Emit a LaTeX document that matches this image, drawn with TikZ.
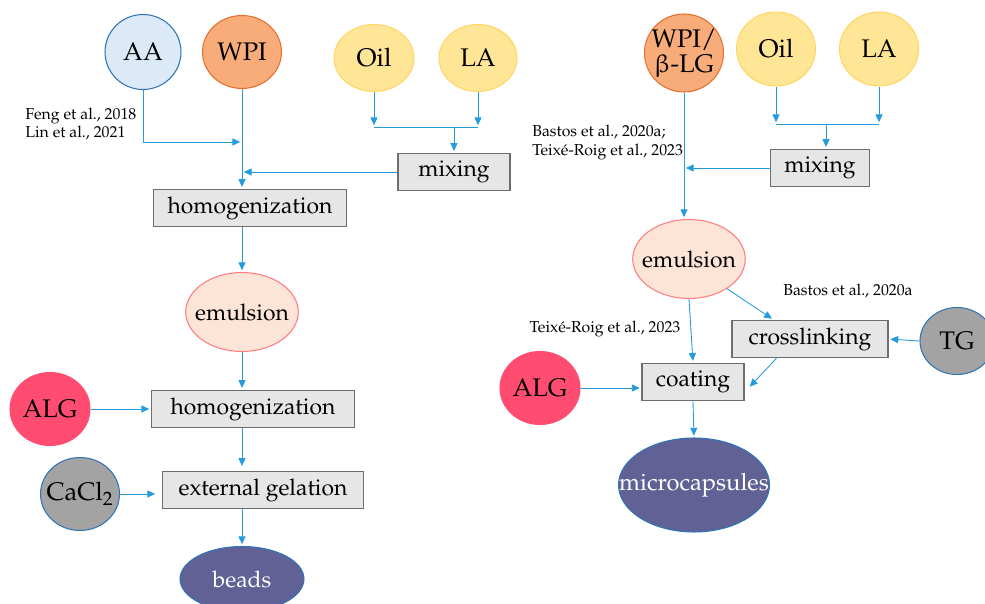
\documentclass[tikz,border=0pt]{standalone}
\usepackage[T1]{fontenc}
\usepackage{mathpazo}
\usepackage{upgreek}
\usepackage{tikz}
\usetikzlibrary{shapes.geometric,arrows.meta,calc}
\definecolor{flowblue}{RGB}{35,155,220}
\definecolor{edgeblue}{RGB}{46,117,182}
\definecolor{aablue}{RGB}{220,234,247}
\definecolor{wpiorange}{RGB}{247,172,122}
\definecolor{wpiedge}{RGB}{232,110,40}
\definecolor{oilyellow}{RGB}{255,229,150}
\definecolor{oiledge}{RGB}{255,214,100}
\definecolor{emulpeach}{RGB}{252,228,214}
\definecolor{emuledge}{RGB}{255,124,128}
\definecolor{algpink}{RGB}{255,76,112}
\definecolor{saltgray}{RGB}{163,163,163}
\definecolor{capviolet}{RGB}{97,97,150}
\definecolor{boxgray}{RGB}{231,230,230}
\definecolor{boxedge}{RGB}{110,110,110}

\begin{document}
\begin{tikzpicture}[x=0.02cm, y=-0.02cm,
  every node/.style={font=\fontsize{13}{16}\selectfont},
  blob/.style={draw, ellipse, inner sep=-4pt, line width=0.6pt, font=\fontsize{14.5}{15}\selectfont},
  stepbox/.style={draw=boxedge, fill=boxgray, rectangle, minimum height=0.75cm, inner sep=0pt, line width=0.6pt},
  cite/.style={font=\fontsize{9}{10.5}\selectfont, align=left, inner sep=0pt},
  arr/.style={-{Triangle[length=4.5pt,width=4pt]}, flowblue, line width=0.5pt, shorten >=1pt},
  link/.style={flowblue, line width=0.5pt}]
\useasboundingbox (0,0) rectangle (985,604);

% Left route: beads
\node[blob, fill=aablue, draw=edgeblue, minimum width=1.52cm, minimum height=1.5cm] (aa) at (143,52) {AA};
\node[blob, fill=wpiorange, draw=wpiedge, minimum width=1.58cm, minimum height=1.46cm] (wpi) at (242,52) {WPI};
\node[blob, fill=oilyellow, draw=oiledge, minimum width=1.6cm, minimum height=1.34cm] (oil1) at (374,58) {Oil};
\node[blob, fill=oilyellow, draw=oiledge, minimum width=1.56cm, minimum height=1.34cm] (la1) at (478,58) {LA};

\node[stepbox, minimum width=2.24cm] (mix1) at (454,172) {mixing};
\node[stepbox, minimum width=3.86cm] (hom1) at (250,208) {homogenization};
\node[blob, fill=emulpeach, draw=emuledge, minimum width=2.18cm, minimum height=1.58cm, font=\fontsize{13}{16}\selectfont] (emul1) at (242,312) {emulsion};
\node[stepbox, minimum width=4.06cm] (hom2) at (253,409) {homogenization};
\node[blob, fill=algpink, draw=algpink, minimum width=1.6cm, minimum height=1.46cm] (alg1) at (50,409) {ALG};
\node[stepbox, minimum width=4.02cm] (gel) at (263,490) {external gelation};
\node[blob, fill=saltgray, draw=edgeblue, minimum width=1.58cm, minimum height=1.46cm] (cacl) at (80,494) {CaCl$_2$};
\node[blob, fill=capviolet, draw=edgeblue, minimum width=2.48cm, minimum height=1.3cm, text=white, font=\fontsize{13}{16}\selectfont] (beads) at (242,579) {beads};

\node[cite, anchor=west] (refl) at (25,124) {Feng et al., 2018\\Lin et al., 2021};

\coordinate (jaa) at (242,142);
\coordinate (jl) at (426,127);
\draw[arr] (aa.south) |- (jaa);
\draw[arr] (wpi.south) -- (wpi.south |- hom1.north);
\draw[arr] (oil1.south) -- (oil1.south |- jl);
\draw[arr] (la1.south) -- (la1.south |- jl);
\draw[link] (oil1.south |- jl) -- (la1.south |- jl);
\draw[arr] (jl -| mix1.north) -- (mix1.north);
\draw[arr] (mix1.west) -- (mix1.west -| wpi.south);
\draw[arr] (emul1.north |- hom1.south) -- (emul1.north);
\draw[arr] (emul1.south) -- (emul1.south |- hom2.north);
\draw[arr] (alg1.east) -- (alg1.east -| hom2.west);
\draw[arr] (emul1.south |- hom2.south) -- ($(emul1.south |- gel.north)+(0,-3)$);
\draw[arr] (cacl.east) -- ($(cacl.east -| gel.west)+(-5,0)$);
\draw[arr] (beads.north |- gel.south) -- (beads.north);

% Right route: microcapsules
\node[blob, fill=wpiorange, draw=wpiedge, minimum width=1.58cm, minimum height=1.56cm, align=center, font=\fontsize{14.5}{14.5}\selectfont] (wpib) at (684,53) {WPI/\\$\upbeta$-LG};
\node[blob, fill=oilyellow, draw=oiledge, minimum width=1.58cm, minimum height=1.48cm] (oil2) at (776,49) {Oil};
\node[blob, fill=oilyellow, draw=oiledge, minimum width=1.58cm, minimum height=1.48cm] (la2) at (879,49) {LA};

\node[stepbox, minimum width=1.98cm] (mix2) at (820,168) {mixing};
\node[blob, fill=emulpeach, draw=emuledge, minimum width=2.18cm, minimum height=1.58cm, font=\fontsize{13}{16}\selectfont] (emul2) at (689,259) {emulsion};
\node[stepbox, minimum width=3.12cm] (cross) at (810,339) {crosslinking};
\node[blob, fill=saltgray, draw=edgeblue, minimum width=1.48cm, minimum height=1.34cm] (tg) at (957,341) {TG};
\node[stepbox, minimum width=2.04cm] (coat) at (693,382) {coating};
\node[blob, fill=algpink, draw=algpink, minimum width=1.6cm, minimum height=1.46cm] (alg2) at (540,388) {ALG};
\node[blob, fill=capviolet, draw=edgeblue, minimum width=3.02cm, minimum height=1.88cm, inner xsep=-0.6cm, text=white, font=\fontsize{13.5}{16}\selectfont] (caps) at (694,485) {microcapsules};

\node[cite, anchor=north west] (refr) at (532,125) {Bastos et al., 2020a;\\Teix\'e-Roig et al., 2023};
\node[cite] (refc) at (605,329) {Teix\'e-Roig et al., 2023};
\node[cite] (refx) at (848,291) {Bastos et al., 2020a};

\coordinate (jr) at (826,124);
\draw[arr] (wpib.south) -- (wpib.south |- emul2.north);
\draw[arr] (oil2.south) -- (oil2.south |- jr);
\draw[arr] (la2.south) -- (la2.south |- jr);
\draw[link] (oil2.south |- jr) -- (la2.south |- jr);
\draw[arr] (jr) -- (jr |- mix2.north);
\draw[arr] (mix2.west) -- (mix2.west -| wpib.south);
\draw[arr] (emul2.south) -- (coat.north);
\draw[arr] (emul2.-38) -- ($(cross.north west)+(42,0)$);
\draw[arr] ($(cross.south west)+(45,0)$) -- ($(coat.east)+(4,6)$);
\draw[arr] (tg.west) -- (cross.east);
\draw[arr] (alg2.east) -- (alg2.east -| coat.west);
\draw[arr] (coat.south) -- (caps.north);
\end{tikzpicture}
\end{document}
